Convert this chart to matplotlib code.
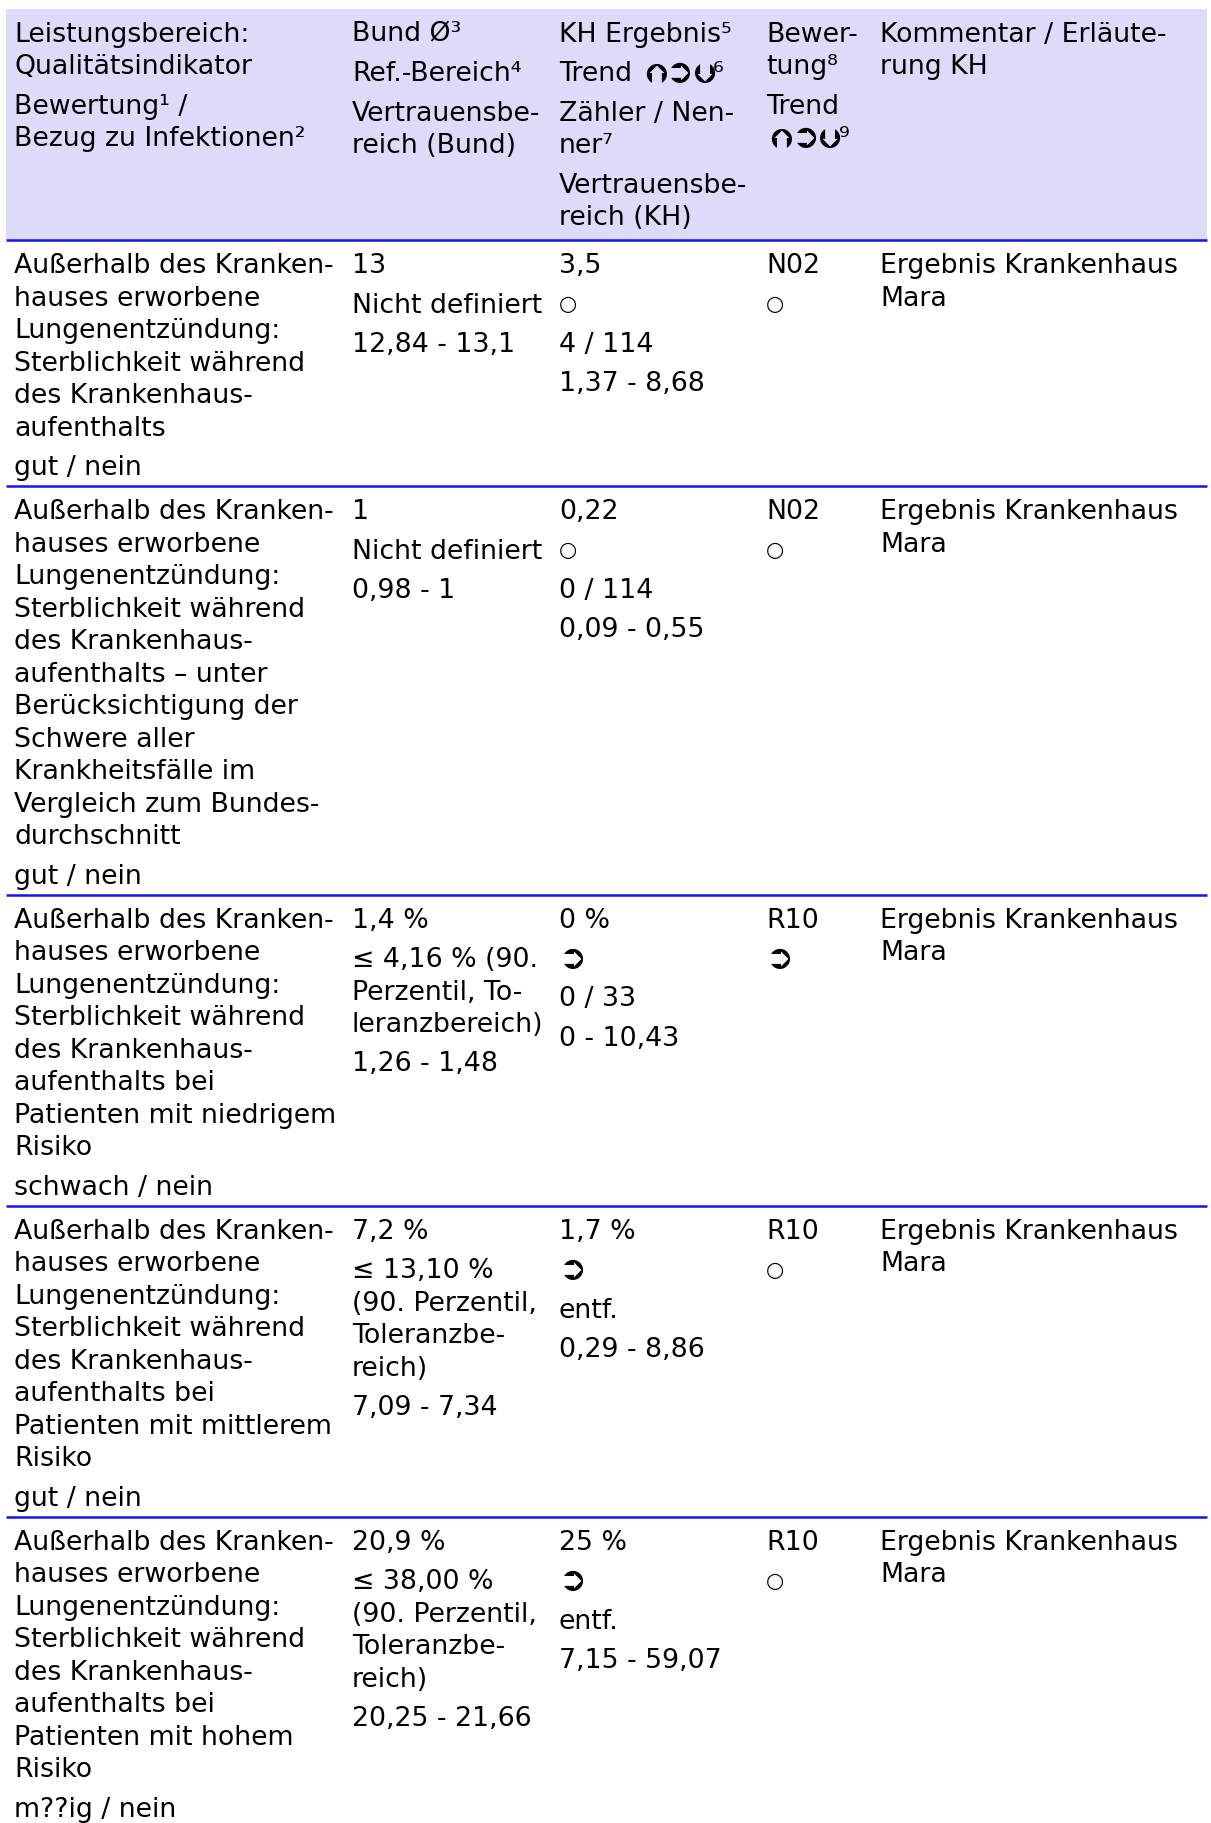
import math

import matplotlib
matplotlib.use('Agg')
from matplotlib import pyplot as plt
from matplotlib.patches import Rectangle
from matplotlib.textpath import TextPath
from matplotlib.font_manager import FontProperties

W, H = 1211, 1823

FONT = 19.3
ARROW_FONT = 24
CIRCLE_FONT = 15
ARROW_ADVANCE = 23.5
LINE_STEP = 32.5
PARA_STEP = 39.4
PAD_TOP = 24.4
PAD_BOTTOM = 19.7
BASE_SHIFT = 8.5

COL_X = [14, 352, 559, 766, 880]
TABLE_LEFT, TABLE_RIGHT, TABLE_TOP = 6, 1207, 9
HEADER_BG = '#dcdcfa'
LINE_COLOR = '#1414e6'

ARROW = '\u27b2'
CIRCLE = '\u25cb'
ROTATED = {'\u2b89': 90, ARROW: 0, '\u2b8b': -90}  # up / right / down, all drawn as turned ➲

header = [
    ['Leistungsbereich:\nQualitätsindikator', 'Bewertung¹ /\nBezug zu Infektionen²'],
    ['Bund Ø³', 'Ref.-Bereich⁴', 'Vertrauensbe-\nreich (Bund)'],
    ['KH Ergebnis⁵', 'Trend \u2b89\u27b2\u2b8b⁶', 'Zähler / Nen-\nner⁷', 'Vertrauensbe-\nreich (KH)'],
    ['Bewer-\ntung⁸', 'Trend\n\u2b89\u27b2\u2b8b⁹'],
    ['Kommentar / Erläute-\nrung KH'],
]

indicators = [
    'Außerhalb des Kranken-\nhauses erworbene\nLungenentzündung:\nSterblichkeit während\n'
    'des Krankenhaus-\naufenthalts',
    'Außerhalb des Kranken-\nhauses erworbene\nLungenentzündung:\nSterblichkeit während\n'
    'des Krankenhaus-\naufenthalts – unter\nBerücksichtigung der\nSchwere aller\n'
    'Krankheitsfälle im\nVergleich zum Bundes-\ndurchschnitt',
    'Außerhalb des Kranken-\nhauses erworbene\nLungenentzündung:\nSterblichkeit während\n'
    'des Krankenhaus-\naufenthalts bei\nPatienten mit niedrigem\nRisiko',
    'Außerhalb des Kranken-\nhauses erworbene\nLungenentzündung:\nSterblichkeit während\n'
    'des Krankenhaus-\naufenthalts bei\nPatienten mit mittlerem\nRisiko',
    'Außerhalb des Kranken-\nhauses erworbene\nLungenentzündung:\nSterblichkeit während\n'
    'des Krankenhaus-\naufenthalts bei\nPatienten mit hohem\nRisiko',
]
ratings = ['gut / nein', 'gut / nein', 'schwach / nein', 'gut / nein', 'm??ig / nein']

bund_values = ['13', '1', '1,4 %', '7,2 %', '20,9 %']
ref_ranges = [
    'Nicht definiert',
    'Nicht definiert',
    '≤ 4,16 % (90.\nPerzentil, To-\nleranzbereich)',
    '≤ 13,10 %\n(90. Perzentil,\nToleranzbe-\nreich)',
    '≤ 38,00 %\n(90. Perzentil,\nToleranzbe-\nreich)',
]
bund_ci = ['12,84 - 13,1', '0,98 - 1', '1,26 - 1,48', '7,09 - 7,34', '20,25 - 21,66']

kh_results = ['3,5', '0,22', '0 %', '1,7 %', '25 %']
kh_trends = [CIRCLE, CIRCLE, ARROW, ARROW, ARROW]
counts = ['4 / 114', '0 / 114', '0 / 33', 'entf.', 'entf.']
kh_ci = ['1,37 - 8,68', '0,09 - 0,55', '0 - 10,43', '0,29 - 8,86', '7,15 - 59,07']

evaluations = ['N02', 'N02', 'R10', 'R10', 'R10']
eval_trends = [CIRCLE, CIRCLE, ARROW, CIRCLE, CIRCLE]
comments = ['Ergebnis Krankenhaus\nMara'] * 5

rows = []
for i in range(len(indicators)):
    rows.append([
        [indicators[i], ratings[i]],
        [bund_values[i], ref_ranges[i], bund_ci[i]],
        [kh_results[i], kh_trends[i], counts[i], kh_ci[i]],
        [evaluations[i], eval_trends[i]],
        [comments[i]],
    ])

# ink box of the arrow glyph, in pixels (dpi 100), relative to its baseline-left anchor
_ext = TextPath((0, 0), ARROW, size=ARROW_FONT, prop=FontProperties(family='DejaVu Sans')).get_extents()
ARROW_INK_W = _ext.width * 100 / 72
ARROW_INK_CY = (_ext.y0 + _ext.y1) / 2 * 100 / 72


def line_centers(cell, top):
    centers = []
    y = top + PAD_TOP
    for p, para in enumerate(cell):
        if p > 0:
            y += PARA_STEP
        for k, line in enumerate(para.split('\n')):
            if k > 0:
                y += LINE_STEP
            centers.append((y, line))
    return centers


def cell_height(cell):
    return line_centers(cell, 0)[-1][0] + PAD_BOTTOM


def text_width(ax, renderer, s, size):
    t = ax.text(0, 0, s + '|', fontsize=size)
    bar = ax.text(0, 0, '|', fontsize=size)
    w = t.get_window_extent(renderer).width - bar.get_window_extent(renderer).width
    t.remove()
    bar.remove()
    return w


def draw_arrow(ax, cx, cy, angle):
    # put the ink centre of the (turned) glyph on (cx, cy)
    a = math.radians(angle)
    ix, iy = ARROW_INK_W / 2, ARROW_INK_CY
    rx = ix * math.cos(a) - iy * math.sin(a)
    ry = ix * math.sin(a) + iy * math.cos(a)
    ax.text(cx - rx, cy + ry, ARROW, fontsize=ARROW_FONT, ha='left', va='baseline',
            rotation=angle, rotation_mode='anchor')


def draw_line(ax, renderer, x, y, line):
    if line == CIRCLE:
        ax.text(x, y, line, fontsize=CIRCLE_FONT, ha='left', va='center')
        return
    if line == ARROW:
        draw_arrow(ax, x + ARROW_INK_W / 2, y, 0)
        return
    if not any(c in ROTATED for c in line):
        ax.text(x, y + BASE_SHIFT, line, fontsize=FONT, ha='left', va='baseline')
        return
    # line with arrow glyphs: plain text pieces and turned ➲
    cursor = x
    buf = ''
    for c in line + '\0':
        if c in ROTATED or c == '\0':
            if buf:
                ax.text(cursor, y + BASE_SHIFT, buf, fontsize=FONT, ha='left', va='baseline')
                cursor += text_width(ax, renderer, buf, FONT)
                buf = ''
            if c == '\0':
                break
            draw_arrow(ax, cursor + ARROW_ADVANCE / 2, y, ROTATED[c])
            cursor += ARROW_ADVANCE
        else:
            if not buf and cursor > x:
                cursor += 2  # small gap after an arrow
            buf += c


fig = plt.figure(figsize=(W / 100, H / 100), dpi=100)
ax = fig.add_axes([0, 0, 1, 1])
ax.set_xlim(0, W)
ax.set_ylim(H, 0)
ax.axis('off')
renderer = fig.canvas.get_renderer()

# header
header_h = max(cell_height(c) for c in header) + 4
ax.add_patch(Rectangle((TABLE_LEFT, TABLE_TOP), TABLE_RIGHT - TABLE_LEFT, header_h,
                       facecolor=HEADER_BG, edgecolor='none'))
for x, cell in zip(COL_X, header):
    for y, line in line_centers(cell, TABLE_TOP):
        draw_line(ax, renderer, x, y, line)
top = TABLE_TOP + header_h
ax.plot([TABLE_LEFT, TABLE_RIGHT], [top, top], color=LINE_COLOR, lw=1.8, solid_capstyle='butt')

for r, row in enumerate(rows):
    row_h = max(cell_height(c) for c in row)
    for x, cell in zip(COL_X, row):
        for y, line in line_centers(cell, top):
            draw_line(ax, renderer, x, y, line)
    top += row_h
    if r < len(rows) - 1:
        ax.plot([TABLE_LEFT, TABLE_RIGHT], [top, top], color=LINE_COLOR, lw=1.8,
                solid_capstyle='butt')

fig.savefig('out.png', dpi=100)
